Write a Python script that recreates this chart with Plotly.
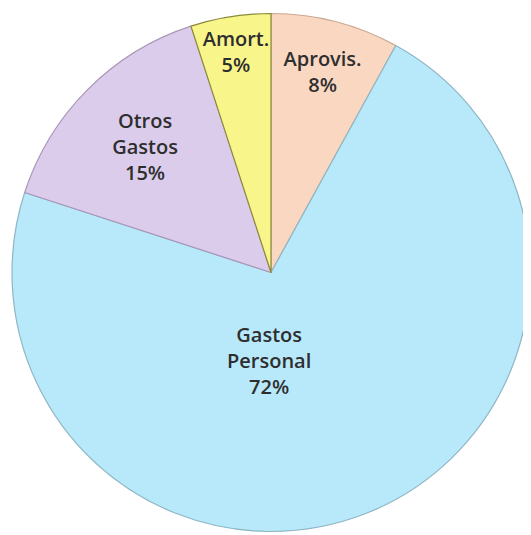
import plotly.graph_objects as go

labels = ["Aprovis.", "Gastos Personal", "Otros Gastos", "Amort."]
values = [8, 72, 15, 5]
label_text = ["Aprovis.", "Gastos<br>Personal", "Otros<br>Gastos", "Amort."]
colors = ["#FAD7C1", "#B8E9FA", "#DBCCEB", "#F8F58B"]
line_colors = ["#C9A88E", "#8FB6C4", "#A996B8", "#8C8A3A"]

W, H = 523, 527
total = sum(values)
pct = [f"{round(100 * v / total)}%" for v in values]

# big slice label drawn as annotation (placed below the centre as in the original)
inside = [f"{t}<br>{p}" for t, p in zip(label_text, pct)]
inside[1] = ""

FONT = dict(family="Open Sans", size=20, color="#2e2e2e", weight=600)

fig = go.Figure(go.Pie(
    labels=labels,
    values=values,
    text=inside,
    textinfo="text",
    textposition="inside",
    insidetextorientation="horizontal",
    sort=False,
    direction="clockwise",
    rotation=0,
    marker=dict(colors=colors, line=dict(color=line_colors, width=1.2)),
    textfont=FONT,
    domain=dict(x=[4 / W, 522 / W], y=[2 / H, 523 / H]),
    showlegend=False,
    hoverinfo="label+percent",
))

fig.add_annotation(
    x=(269 - 8) / W, y=1 - (360 - 8) / H, xref="paper", yref="paper",
    text=f"{label_text[1]}<br>{pct[1]}", showarrow=False,
    font=FONT,
    xanchor="center", yanchor="middle",
)

fig.update_layout(
    width=W, height=H,
    margin=dict(l=0, r=0, t=0, b=0),
    paper_bgcolor="white",
    uniformtext=dict(minsize=20, mode="show"),
)

fig.write_html("out.html")
